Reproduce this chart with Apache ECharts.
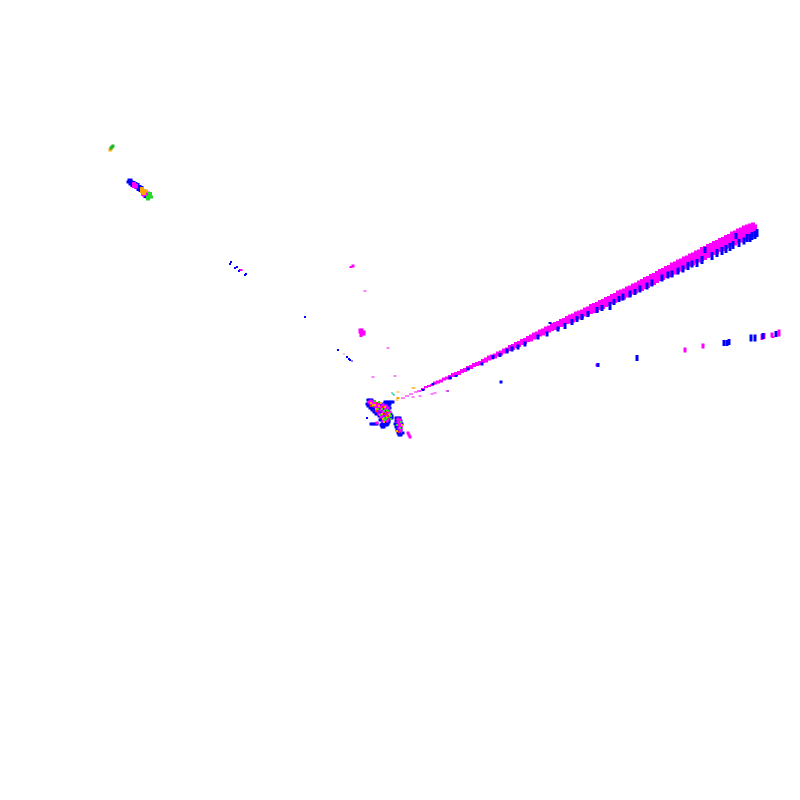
<!DOCTYPE html>
<html><head><meta charset="utf-8">
<script src="https://cdn.jsdelivr.net/npm/echarts@6/dist/echarts.min.js"></script>
<style>html,body{margin:0;padding:0;background:#fff}#c{width:800px;height:800px}</style></head>
<body><div id="c"></div>
<script>
// [x, y, magnitude]
const magentaBand=[[403,398,1],[407,396,1],[411,394,1],[416,392,1],[419,391,1],[423,389,2],[426,387,2],[429,386,2],[432,385,2],[435,383,3],[438,382,3],[441,381,3],[444,379,3],[447,378,3],[450,377,4],[453,375,4],[456,374,4],[459,373,4],[462,371,4],[465,370,4],[468,368,4],[471,367,4],[474,365,4],[477,364,4],[480,363,4],[483,361,4],[486,360,5],[489,358,5],[492,357,5],[495,356,5],[498,354,5],[501,353,5],[504,351,5],[507,350,5],[510,348,6],[513,347,6],[516,345,6],[519,344,6],[522,342,6],[525,341,6],[528,339,6],[531,338,7],[534,336,7],[537,335,7],[540,333,7],[543,332,7],[546,330,7],[549,329,7],[552,327,8],[555,326,8],[558,325,8],[561,323,8],[564,322,8],[567,320,8],[570,319,9],[573,318,9],[576,316,9],[579,315,9],[582,314,9],[585,312,9],[588,311,9],[591,309,10],[594,308,10],[597,307,10],[600,305,10],[603,304,10],[606,302,10],[609,301,10],[612,299,10],[615,298,10],[618,296,11],[621,295,11],[624,294,11],[627,292,11],[630,291,11],[633,289,11],[636,288,11],[639,286,11],[642,285,12],[645,283,12],[648,282,12],[651,280,12],[654,279,12],[657,277,12],[660,275,12],[663,274,12],[666,272,12],[669,271,12],[672,269,13],[675,268,13],[678,266,13],[681,265,13],[684,263,13],[687,262,13],[690,260,13],[693,259,13],[696,257,13],[699,256,13],[702,254,14],[705,253,14],[708,251,14],[711,250,14],[714,248,14],[717,247,14],[720,245,14],[723,244,14],[726,242,14],[729,241,14],[732,239,15],[735,238,15],[738,236,15],[741,235,15],[744,233,15],[747,232,15],[750,231,15],[753,230,15],[755,230,11]];
const blueBand=[[423,390,2],[433,384,2],[450,378,3],[456,376,2],[468,369,3],[482,364,3],[493,357,4],[500,355,4],[507,351,5],[512,349,5],[518,347,5],[525,344,5],[538,337,5],[547,334,5],[550,323,2],[558,329,5],[565,326,6],[572,322,6],[577,319,6],[582,317,6],[588,314,6],[597,310,6],[602,308,6],[610,306,8],[614,302,6],[619,299,6],[623,297,7],[630,294,7],[635,292,6],[640,289,7],[647,286,7],[652,283,7],[662,278,7],[668,275,7],[672,274,7],[678,271,7],[683,269,7],[688,266,8],[692,264,7],[697,263,8],[702,260,8],[705,250,6],[712,256,8],[717,253,8],[722,251,8],[726,249,8],[730,247,8],[733,245,8],[739,243,8],[736,236,6],[744,241,7],[747,238,8],[750,238,8],[752,236,8],[755,235,8],[757,233,8]];
const blueBranch=[[598,365,4],[637,358,6],[724,343,6],[727,343,6],[729,342,6],[751,338,7],[755,338,7],[763,336,6],[776,334,6],[501,382,3]];
const magentaBranch=[[597,365,3],[685,350,5],[703,346,5],[762,337,6],[764,336,6],[772,335,5],[773,337,2],[779,333,7]];
const blueScatter=[[231,262,2],[230,264,2],[237,267,2],[235,268,2],[240,270,2],[239,271,2],[246,274,2],[245,275,2],[305,317,2],[338,350,2],[347,357,2],[349,359,2],[350,360,2],[352,361,1],[448,391,1],[367,418,2]];
const magentaScatter=[[241,270,2],[353,266,3],[351,267,2],[365,291,1],[360,331,5],[362,332,7],[364,333,5],[361,334,6],[420,396,1],[413,397,1],[432,394,1],[435,393,1],[447,391,1],[388,348,1],[373,377,1],[395,376,1],[409,435,3],[408,433,3],[410,437,3],[420,391,1]];
const redScatter=[[344,354,1]];
const tealScatter=[[392,393,1],[393,394,1],[394,395,1],[367,400,1]];
const orangeScatter=[[398,392,1],[398,398,2],[397,400,1],[413,388,1],[414,388,1],[110,150,3],[111,149,3]];
const greenScatter=[[112,147,3],[113,146,3],[111,148,3]];
const blueStreak=[[130,180,3],[129,182,3],[131,183,5],[133,184,6],[135,185,6],[137,186,6],[139,188,6],[141,189,6],[144,193,6],[146,195,6],[148,196,5]];
const magentaStreak=[[134,185,6],[136,186,5],[146,193,5],[148,194,5],[144,195,3]];
const orangeStreak=[[142,190,6],[144,192,6],[146,191,3]];
const greenStreak=[[150,195,6],[148,198,5],[151,197,3]];
const blueClusterRows=[[400,[368,370,372]],[402,[369,371,373,385,387,389,391,393]],[404,[367,369,372,374,377,379,381,384,386,388,390]],[406,[368,371,373,375,378,380,383,385,387,389]],[408,[370,372,374,377,379,381,383,386,388,390]],[410,[372,375,377,379,382,384,386,388]],[412,[374,376,379,381,383,385,388]],[414,[376,378,380,382,385,387,389,391]],[416,[379,381,384,386,388,390,392]],[418,[381,383,385,387,390,392]],[420,[380,382,385,387,389]],[422,[383,385,387,389]],[424,[371,373,375,377,382,384,386,388]],[425,[381,383,385,387]],[427,[382,384]],[418,[396,398,400]],[421,[396,399,401]],[424,[395,397,400,402]],[427,[396,398,401]],[430,[397,399,401]],[433,[398,400,403]],[435,[399,401]]];
const magentaCluster=[[371,401],[373,402],[370,403],[372,404],[375,403],[377,405],[374,406],[376,407],[379,404],[381,407],[383,405],[386,406],[378,408],[380,410],[377,411],[385,409],[383,412],[388,413],[386,415],[390,412],[379,414],[381,417],[385,418],[388,419],[383,421],[398,419],[400,420],[398,422],[400,423],[399,425],[401,426],[399,428],[401,429],[400,431],[377,423],[369,402],[374,404],[384,407],[388,408],[382,416],[387,421]];
const greenCluster=[[375,401],[378,409],[382,409],[384,411],[387,410],[390,414],[389,417],[391,416],[386,419],[384,418],[380,415],[401,422],[397,425],[400,428],[372,406],[379,402],[385,420],[391,419],[388,411]];
const orangeCluster=[[373,405],[379,406],[381,403],[385,407],[382,414],[387,417],[384,422],[402,425],[397,431],[376,409],[371,403],[375,405],[383,419],[389,415]];
const redCluster=[[371,406],[382,407],[376,411],[385,414],[388,416],[399,432],[377,403],[386,412]];

const blueClusterPoints=blueClusterRows.flatMap(r=>r[1].map(x=>[x,r[0]]));
function mk(name,data,color,width,fixed){
  return {name,type:'scatter',data,symbol:'rect',silent:true,animation:false,large:false,
    symbolSize:fixed?[fixed,fixed]:(d=>[width,d[2]]),itemStyle:{color,opacity:1},emphasis:{disabled:true}};
}
const chart=echarts.init(document.getElementById('c'),null,{renderer:'canvas'});
chart.setOption({
  animation:false,backgroundColor:'#fff',tooltip:{show:false},legend:{show:false},
  grid:{left:0,right:0,top:0,bottom:0},
  xAxis:{type:'value',min:0,max:800,show:false},
  yAxis:{type:'value',min:0,max:800,inverse:true,show:false},
  series:[
    mk('band',magentaBand,'#ff00ff',4),
    mk('bandBlue',blueBand,'#0000ff',3),
    mk('branchM',magentaBranch,'#ff00ff',3),
    mk('branchB',blueBranch,'#0000ff',3),
    mk('scatterB',blueScatter,'#0000ff',2),
    mk('scatterM',magentaScatter,'#ff00ff',3),
    mk('red',redScatter,'#ff0000',1),
    mk('teal',tealScatter,'#00c8a0',2),
    mk('orange',orangeScatter,'#ffa500',3),
    mk('green',greenScatter,'#22b422',3),
    mk('streakB',blueStreak,'#0000ff',5),
    mk('streakM',magentaStreak,'#ff00ff',4),
    mk('streakO',orangeStreak,'#ffa500',4),
    mk('streakG',greenStreak,'#22dd22',4),
    mk('clusterB',blueClusterPoints,'#0000ff',0,3),
    mk('clusterM',magentaCluster,'#ff00ff',0,3),
    mk('clusterG',greenCluster,'#22dd22',0,2),
    mk('clusterO',orangeCluster,'#ffa500',0,2),
    mk('clusterR',redCluster,'#ff2020',0,2)
  ]
});
</script></body></html>
